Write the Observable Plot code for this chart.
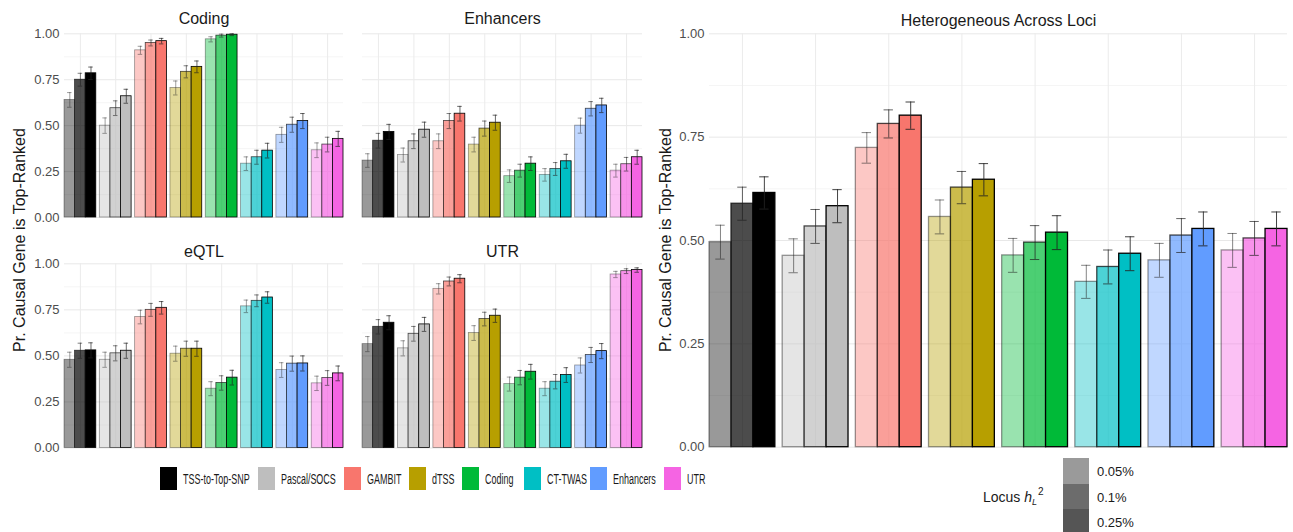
<!DOCTYPE html>
<html><head><meta charset="utf-8">
<script src="https://cdn.jsdelivr.net/npm/d3@7"></script>
<script src="https://cdn.jsdelivr.net/npm/@observablehq/plot@0.6"></script>
<style>
html,body{margin:0;padding:0;background:#fff;}
#wrap{position:relative;width:1293px;height:532px;overflow:hidden;font-family:"Liberation Sans",Arial,Helvetica,sans-serif;}
#wrap svg{position:absolute;left:0;top:0;}
.ytitle{position:absolute;font-size:16px;color:#1a1a1a;white-space:nowrap;transform:translate(-50%,-50%) rotate(-90deg);line-height:1;}
.lkey{position:absolute;width:17px;height:23px;top:467px;}
.ltxt{position:absolute;top:479px;font-size:14px;color:#1a1a1a;white-space:nowrap;transform:translateY(-50%) scaleX(0.64);transform-origin:left center;line-height:1;}
.hkey{position:absolute;left:1063px;width:26px;height:25.5px;}
.htxt{position:absolute;left:1097px;font-size:13px;color:#1a1a1a;transform:translateY(-50%);line-height:1;}
</style></head><body><div id="wrap"></div>
<script>
// ---- data ----
const methods = ["TSS-to-Top-SNP","Pascal/SOCS","GAMBIT","dTSS","Coding","CT-TWAS","Enhancers","UTR"];
const methodColors = ["#000000","#BEBEBE","#F8766D","#B79F00","#00BA38","#00BFC4","#619CFF","#F564E3"];
const heritability = ["0.05%","0.1%","0.25%"];
const heritabilityKeyColors = ["#9a9a9a","#6c6c6c","#555555"];
const yTicks = [0, 0.25, 0.5, 0.75, 1];
const yMinorTicks = [0.125, 0.375, 0.625, 0.875];
const yTitle = "Pr. Causal Gene is Top-Ranked";

// values ordered by method, then heritability level
const codingValues = [0.64,0.75,0.785, 0.50,0.595,0.66, 0.91,0.95,0.96, 0.705,0.793,0.82, 0.97,0.99,0.995, 0.293,0.328,0.364, 0.45,0.505,0.525, 0.366,0.397,0.428];
const codingErrors = [0.04,0.035,0.034, 0.042,0.04,0.038, 0.022,0.016,0.015, 0.038,0.033,0.032, 0.014,0.008,0.005, 0.037,0.038,0.04, 0.041,0.041,0.041, 0.04,0.04,0.041];
const enhancerValues = [0.31,0.418,0.466, 0.34,0.415,0.478, 0.415,0.525,0.565, 0.397,0.484,0.516, 0.225,0.255,0.293, 0.232,0.264,0.306, 0.50,0.592,0.61, 0.255,0.29,0.328];
const enhancerErrors = [0.037,0.04,0.041, 0.038,0.04,0.041, 0.04,0.041,0.04, 0.04,0.041,0.041, 0.034,0.035,0.037, 0.034,0.035,0.038, 0.041,0.039,0.039, 0.035,0.037,0.038];
const eqtlValues = [0.479,0.528,0.53, 0.479,0.514,0.528, 0.711,0.75,0.761, 0.512,0.539,0.539, 0.322,0.353,0.382, 0.769,0.799,0.817, 0.423,0.458,0.459, 0.351,0.38,0.405];
const eqtlErrors = [0.041,0.041,0.041, 0.041,0.041,0.041, 0.037,0.035,0.034, 0.041,0.041,0.041, 0.038,0.039,0.04, 0.034,0.032,0.031, 0.04,0.041,0.041, 0.039,0.04,0.04];
const utrValues = [0.564,0.658,0.68, 0.541,0.62,0.671, 0.864,0.904,0.919, 0.624,0.70,0.718, 0.347,0.382,0.414, 0.322,0.36,0.396, 0.448,0.505,0.526, 0.942,0.96,0.966];
const utrErrors = [0.041,0.039,0.038, 0.041,0.04,0.038, 0.028,0.024,0.022, 0.04,0.037,0.036, 0.038,0.039,0.04, 0.038,0.039,0.04, 0.041,0.041,0.041, 0.017,0.013,0.012];
const heteroValues = [0.496,0.589,0.615, 0.463,0.534,0.583, 0.724,0.782,0.802, 0.557,0.628,0.647, 0.464,0.495,0.519, 0.40,0.436,0.468, 0.452,0.512,0.528, 0.476,0.505,0.528];
const heteroErrors = [0.041,0.04,0.039, 0.041,0.041,0.04, 0.037,0.034,0.033, 0.041,0.039,0.039, 0.041,0.041,0.041, 0.04,0.041,0.041, 0.041,0.041,0.041, 0.041,0.041,0.041];

// ---- styles ----
const W = 1293, H = 532;
const FONT = '"Liberation Sans", Arial, Helvetica, sans-serif';
const alphas = [0.4, 0.7, 1];
const errOpacity = [0.55, 0.7, 0.85];
const wrap = document.getElementById("wrap");

function panel(values, errors, title, frame, o) {
  const [fx0, fx1, fy0, fy1] = frame; // left, right, top, bottom
  const rows = [];
  methods.forEach((m, i) => heritability.forEach((h, j) => {
    const k = i * 3 + j, v = values[k], e = errors[k];
    rows.push({method: m, level: j, v, lo: v - e, hi: v + e,
      x1: i + 1 - 0.45 + j * 0.3, x2: i + 1 - 0.15 + j * 0.3, xc: i + 1 - 0.3 + j * 0.3,
      color: methodColors[i]});
  }));
  const cap = 0.064;
  const marks = [
    Plot.ruleY(yMinorTicks, {stroke: "#f0f0f0", strokeWidth: 0.7}),
    Plot.ruleY(yTicks, {stroke: "#e8e8e8", strokeWidth: 1}),
    Plot.ruleX(d3.range(1, methods.length + 1), {stroke: "#ebebeb", strokeWidth: 1}),
    Plot.text([title], {frameAnchor: "top", dy: o.titleDy, fontSize: 16, fill: "#1a1a1a", lineAnchor: "middle"})
  ];
  if (o.axis) marks.push(Plot.axisY({ticks: yTicks, tickFormat: d3.format(".2f"), tickSize: 0, tickPadding: 5, fontSize: 13, fill: "#4d4d4d", label: null}));
  alphas.forEach((a, j) => {
    const sub = rows.filter(r => r.level === j);
    marks.push(Plot.rect(sub, {x1: "x1", x2: "x2", y1: 0, y2: "v", fill: "color", fillOpacity: a,
      stroke: "#000", strokeOpacity: a, strokeWidth: o.sw}));
  });
  alphas.forEach((a, j) => {
    const sub = rows.filter(r => r.level === j);
    const st = {stroke: "#222", strokeOpacity: errOpacity[j], strokeWidth: o.ew};
    marks.push(Plot.ruleX(sub, {x: "xc", y1: "lo", y2: "hi", ...st}));
    marks.push(Plot.ruleY(sub, {y: "hi", x1: d => d.xc - cap, x2: d => d.xc + cap, ...st}));
    marks.push(Plot.ruleY(sub, {y: "lo", x1: d => d.xc - cap, x2: d => d.xc + cap, ...st}));
  });
  const svg = Plot.plot({
    width: W, height: H,
    marginLeft: fx0, marginRight: W - fx1, marginTop: fy0, marginBottom: H - fy1,
    x: {domain: [0.55, methods.length + 0.45], axis: null},
    y: o.axis ? {domain: [0, 1]} : {domain: [0, 1], axis: null},
    color: {type: "identity"},
    style: {fontFamily: FONT, background: "transparent", overflow: "visible"},
    marks
  });
  wrap.appendChild(svg);
}

panel(codingValues, codingErrors, "Coding", [64, 343, 33.3, 217], {titleDy: -14.6, sw: 0.8, ew: 0.8, axis: true});
panel(enhancerValues, enhancerErrors, "Enhancers", [362, 642, 33.3, 217], {titleDy: -14.6, sw: 0.8, ew: 0.8, axis: false});
panel(eqtlValues, eqtlErrors, "eQTL", [64, 343, 263.3, 447.5], {titleDy: -11.5, sw: 0.8, ew: 0.8, axis: true});
panel(utrValues, utrErrors, "UTR", [362, 642, 263.3, 447.5], {titleDy: -11.5, sw: 0.8, ew: 0.8, axis: false});
panel(heteroValues, heteroErrors, "Heterogeneous Across Loci", [709, 1287, 33.3, 446.7], {titleDy: -13.3, sw: 1.3, ew: 1, axis: true});

// y-axis titles
[[20, 240], [665.5, 240]].forEach(([x, y]) => {
  const d = document.createElement("div");
  d.className = "ytitle"; d.textContent = yTitle;
  d.style.left = x + "px"; d.style.top = y + "px";
  wrap.appendChild(d);
});

// method legend
const legendLeft = [160, 258.3, 344.3, 409.3, 462.3, 523.5, 590, 664];
methods.forEach((m, i) => {
  const k = document.createElement("div");
  k.className = "lkey"; k.style.left = legendLeft[i] + "px"; k.style.background = methodColors[i];
  wrap.appendChild(k);
  const t = document.createElement("div");
  t.className = "ltxt"; t.style.left = (legendLeft[i] + 23) + "px"; t.textContent = m;
  wrap.appendChild(t);
});

// heritability legend
const ht = document.createElement("div");
ht.style.cssText = "position:absolute;left:983px;top:497px;transform:translateY(-50%);font-size:14px;color:#1a1a1a;white-space:nowrap;line-height:1;";
ht.innerHTML = 'Locus <i>h</i><sub style="font-size:9px;font-style:italic;vertical-align:-3px;">L</sub><sup style="font-size:10px;vertical-align:7px;margin-left:1px;">2</sup>';
wrap.appendChild(ht);
heritability.forEach((h, j) => {
  const k = document.createElement("div");
  k.className = "hkey"; k.style.top = (458.3 + j * 25.5) + "px"; k.style.background = heritabilityKeyColors[j];
  wrap.appendChild(k);
  const t = document.createElement("div");
  t.className = "htxt"; t.style.top = (471 + j * 25.5) + "px"; t.textContent = h;
  wrap.appendChild(t);
});
</script></body></html>
